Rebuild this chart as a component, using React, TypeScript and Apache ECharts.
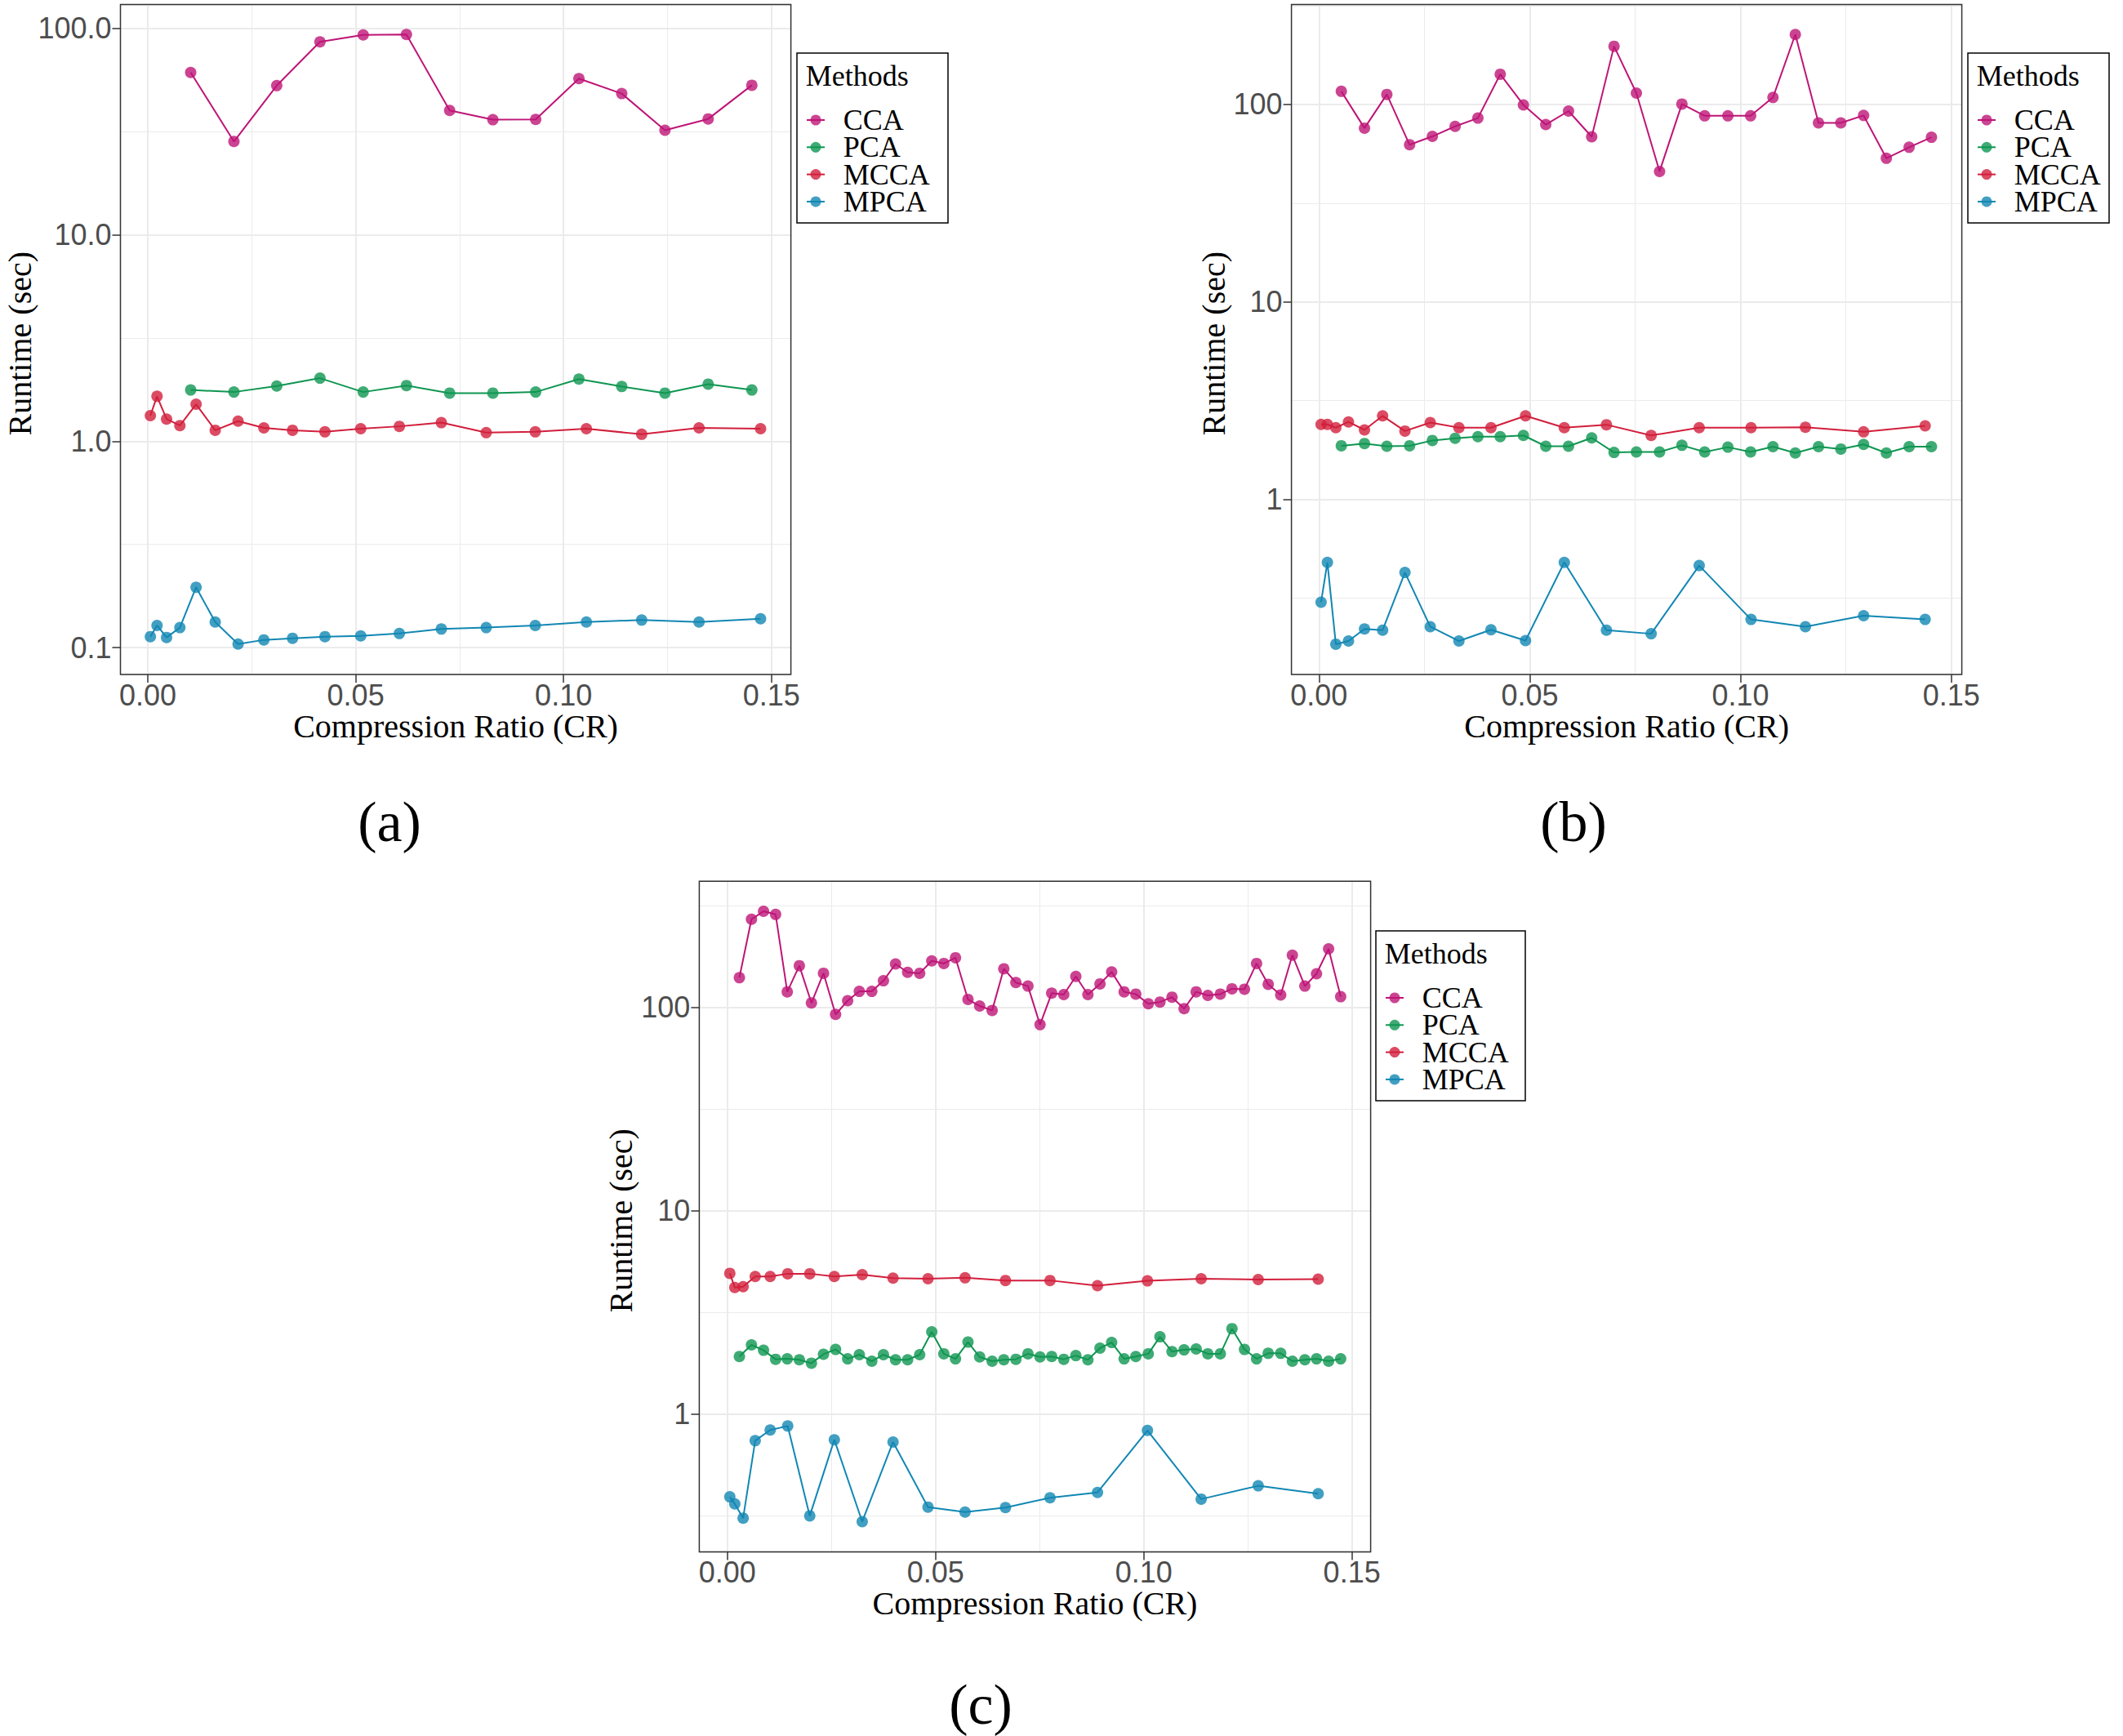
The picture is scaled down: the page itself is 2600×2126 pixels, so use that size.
import React, { useEffect, useRef } from 'react';
import * as echarts from 'echarts';

// ---------- data ----------
const methods = ['CCA', 'PCA', 'MCCA', 'MPCA'];
const xTicks = [0, 0.05, 0.1, 0.15];
const aYTicks = [0.1, 1, 10, 100];
const bYTicks = [1, 10, 100];
const cYTicks = [1, 10, 100];

// Panel (a)
const aCrSingle = [0.0103, 0.0207, 0.031, 0.0414, 0.0518, 0.0622, 0.0726, 0.083, 0.0933, 0.1037, 0.114, 0.1244, 0.1348, 0.1453];
const aCCA = [61.1, 28.3, 52.8, 86.0, 92.9, 93.4, 40.0, 36.1, 36.2, 57.1, 48.3, 32.1, 36.4, 53.0];
const aPCA = [1.77, 1.73, 1.85, 2.02, 1.73, 1.86, 1.71, 1.71, 1.73, 2.0, 1.84, 1.71, 1.89, 1.77];
const aCrMulti = [0.0006, 0.0022, 0.0045, 0.0077, 0.0116, 0.0162, 0.0217, 0.0279, 0.0348, 0.0426, 0.0512, 0.0605, 0.0706, 0.0814, 0.0932, 0.1055, 0.1188, 0.1326, 0.1474];
const aMCCA = [1.33, 1.65, 1.28, 1.19, 1.51, 1.13, 1.25, 1.16, 1.13, 1.11, 1.15, 1.18, 1.23, 1.1, 1.11, 1.15, 1.08, 1.16, 1.15];
const aMPCA = [0.113, 0.128, 0.112, 0.125, 0.196, 0.133, 0.104, 0.109, 0.111, 0.113, 0.114, 0.117, 0.123, 0.125, 0.128, 0.133, 0.136, 0.133, 0.138];

// Panel (b)
const bCrSingle = [0.0053, 0.0108, 0.0161, 0.0215, 0.0269, 0.0323, 0.0377, 0.043, 0.0485, 0.0538, 0.0592, 0.0647, 0.07, 0.0753, 0.0808, 0.0861, 0.0915, 0.097, 0.1024, 0.1077, 0.113, 0.1185, 0.1238, 0.1292, 0.1346, 0.14, 0.1453];
const bCCA = [116.5, 75.9, 112.4, 62.5, 68.9, 77.5, 85.3, 142.2, 99.5, 79.1, 92.6, 68.6, 197.1, 114.2, 45.8, 100.5, 87.6, 87.6, 87.6, 108.5, 226.1, 80.7, 80.7, 88.0, 53.4, 60.7, 68.2];
const bPCA = [1.87, 1.92, 1.86, 1.87, 1.99, 2.04, 2.08, 2.08, 2.11, 1.86, 1.86, 2.05, 1.73, 1.74, 1.74, 1.88, 1.74, 1.84, 1.74, 1.85, 1.72, 1.85, 1.8, 1.9, 1.72, 1.85, 1.85];
const bCrMulti = [0.0005, 0.002, 0.004, 0.007, 0.0108, 0.0151, 0.0204, 0.0264, 0.0332, 0.0408, 0.049, 0.0582, 0.0682, 0.0788, 0.0902, 0.1025, 0.1154, 0.1292, 0.1438];
const bMCCA = [2.4, 2.4, 2.31, 2.47, 2.25, 2.65, 2.22, 2.45, 2.31, 2.31, 2.65, 2.31, 2.39, 2.11, 2.31, 2.31, 2.32, 2.2, 2.36];
const bMPCA = [0.302, 0.48, 0.185, 0.192, 0.221, 0.218, 0.427, 0.227, 0.192, 0.219, 0.193, 0.48, 0.218, 0.209, 0.463, 0.247, 0.227, 0.258, 0.247];

// Panel (c)
const cCrSingle = [0.0029, 0.0058, 0.0087, 0.0116, 0.0144, 0.0173, 0.0202, 0.0231, 0.026, 0.0289, 0.0317, 0.0347, 0.0375, 0.0404, 0.0433, 0.0462, 0.0491, 0.052, 0.0548, 0.0578, 0.0606, 0.0636, 0.0664, 0.0693, 0.0722, 0.0751, 0.0779, 0.0808, 0.0837, 0.0866, 0.0895, 0.0923, 0.0953, 0.0981, 0.1011, 0.1039, 0.1068, 0.1097, 0.1126, 0.1154, 0.1184, 0.1212, 0.1242, 0.1271, 0.1299, 0.1329, 0.1357, 0.1387, 0.1415, 0.1444, 0.1473];
const cCCA = [139.9, 271.0, 296.6, 286.4, 119.2, 160.2, 105.1, 147.1, 92.3, 107.8, 119.8, 119.8, 135.1, 163.4, 148.6, 147.1, 169.2, 164.3, 175.3, 109.4, 101.5, 96.6, 154.7, 132.4, 127.2, 82.2, 117.4, 115.6, 142.0, 115.6, 130.4, 149.3, 119.2, 116.2, 104.1, 106.2, 112.2, 98.5, 119.2, 114.5, 116.2, 123.4, 122.8, 164.3, 129.8, 115.1, 180.6, 127.2, 146.3, 193.8, 112.8];
const cPCA = [1.92, 2.19, 2.06, 1.86, 1.87, 1.85, 1.78, 1.97, 2.08, 1.87, 1.96, 1.82, 1.96, 1.85, 1.85, 1.96, 2.54, 1.98, 1.87, 2.26, 1.91, 1.82, 1.85, 1.86, 1.98, 1.91, 1.92, 1.86, 1.94, 1.85, 2.11, 2.25, 1.87, 1.92, 1.98, 2.4, 2.03, 2.07, 2.09, 1.98, 1.98, 2.63, 2.08, 1.87, 1.99, 1.99, 1.82, 1.85, 1.87, 1.82, 1.87];
const cCrMulti = [0.0006, 0.0018, 0.0038, 0.0067, 0.0103, 0.0145, 0.0198, 0.0257, 0.0324, 0.0398, 0.0482, 0.0571, 0.0668, 0.0775, 0.0889, 0.1009, 0.1138, 0.1275, 0.1419];
const cMCCA = [4.92, 4.19, 4.23, 4.75, 4.75, 4.9, 4.9, 4.75, 4.85, 4.66, 4.63, 4.68, 4.54, 4.54, 4.28, 4.52, 4.63, 4.59, 4.61];
const cMPCA = [0.392, 0.362, 0.308, 0.74, 0.835, 0.874, 0.316, 0.748, 0.296, 0.729, 0.349, 0.33, 0.347, 0.388, 0.412, 0.831, 0.382, 0.444, 0.406];

// ---------- styles / layout ----------
const COLORS = ['#BE1577', '#0F9651', '#D21F3C', '#1287B3'];
const SANS = 'Liberation Sans';
const SERIF = 'Liberation Serif';
const TICK_COLOR = '#4D4D4D';
const GRID_COLOR = '#EBEBEB';

const panels = [
  {
    label: '(a)', labelPos: [477, 1006],
    grid: { left: 147.5, top: 5.4, width: 821.1, height: 820.6 },
    xRange: [-0.0066, 0.1547], yRange: [0.0741, 130.6],
    yTicks: aYTicks, yDecimals: 1, yTitleGap: 123,
    legend: { left: 976, top: 65, width: 185 },
    series: [[aCrSingle, aCCA], [aCrSingle, aPCA], [aCrMulti, aMCCA], [aCrMulti, aMPCA]],
  },
  {
    label: '(b)', labelPos: [1927, 1006],
    grid: { left: 1581.6, top: 5.4, width: 821, height: 820.6 },
    xRange: [-0.00653, 0.1525], yRange: [0.13, 321],
    yTicks: bYTicks, yDecimals: 0, yTitleGap: 95.6,
    legend: { left: 2410, top: 65, width: 173 },
    series: [[bCrSingle, bCCA], [bCrSingle, bPCA], [bCrMulti, bMCCA], [bCrMulti, bMPCA]],
  },
  {
    label: '(c)', labelPos: [1201, 2087],
    grid: { left: 856.4, top: 1079.2, width: 822.2, height: 821.2 },
    xRange: [-0.00673, 0.1545], yRange: [0.2104, 416.9],
    yTicks: cYTicks, yDecimals: 0, yTitleGap: 96,
    legend: { left: 1685, top: 1140, width: 183 },
    series: [[cCrSingle, cCCA], [cCrSingle, cPCA], [cCrMulti, cMCCA], [cCrMulti, cMPCA]],
  },
];

function textEl(text: string, x: number, y: number, size: number, family: string, opts: any = {}) {
  return {
    type: 'text',
    x, y,
    rotation: opts.rotation || 0,
    z: 100,
    silent: true,
    style: {
      text,
      fill: opts.fill || '#000',
      fontSize: size,
      fontFamily: family,
      lineHeight: opts.lineHeight || size,
      align: opts.align || 'center',
      verticalAlign: 'middle',
      textAlign: opts.align || 'center',
      textVerticalAlign: 'middle',
    },
  };
}

function buildOption() {
  const grids: any[] = [];
  const xAxes: any[] = [];
  const yAxes: any[] = [];
  const series: any[] = [];
  const graphics: any[] = [];

  panels.forEach((p, pi) => {
    const g = p.grid;
    grids.push({ left: g.left, top: g.top, width: g.width, height: g.height, containLabel: false, show: false });

    xAxes.push({
      type: 'value', gridIndex: pi, position: 'bottom',
      min: p.xRange[0], max: p.xRange[1],
      splitNumber: 3, minInterval: 0.05, maxInterval: 0.05,
      axisLine: { show: false, onZero: false },
      axisTick: { show: true, customValues: xTicks, length: 10, lineStyle: { color: '#333333', width: 1.5 } },
      axisLabel: {
        customValues: xTicks, margin: 7,
        fontSize: 36, fontFamily: SANS, color: TICK_COLOR,
        formatter: (v: number) => v.toFixed(2),
      },
      splitLine: { show: true, lineStyle: { color: GRID_COLOR, width: 2 } },
      minorTick: { show: false, splitNumber: 2 },
      minorSplitLine: { show: true, lineStyle: { color: GRID_COLOR, width: 1 } },
    });

    // data axis (log scale)
    yAxes.push({
      type: 'log', logBase: 10, gridIndex: pi, position: 'left',
      min: p.yRange[0], max: p.yRange[1],
      axisLine: { show: false, onZero: false },
      axisTick: { show: false },
      axisLabel: { show: false },
      splitLine: { show: true, lineStyle: { color: GRID_COLOR, width: 2 } },
      minorSplitLine: { show: false },
    });
    // companion axis in decades: labels, ticks and the half-decade minor grid
    const lo = Math.log10(p.yRange[0]);
    const hi = Math.log10(p.yRange[1]);
    const dec = p.yDecimals;
    yAxes.push({
      type: 'value', gridIndex: pi, position: 'left', offset: 0,
      min: lo, max: hi,
      splitNumber: 3, minInterval: 1, maxInterval: 1,
      axisLine: { show: false, onZero: false },
      axisTick: { show: true, customValues: p.yTicks.map((t) => Math.log10(t)), length: 10, lineStyle: { color: '#333333', width: 1.5 } },
      axisLabel: {
        customValues: p.yTicks.map((t) => Math.log10(t)), margin: 11,
        fontSize: 36, fontFamily: SANS, color: TICK_COLOR,
        formatter: (v: number) => {
          const val = Math.pow(10, v);
          return dec > 0 ? val.toFixed(dec) : String(Math.round(val));
        },
      },
      splitLine: { show: false },
      minorTick: { show: false, splitNumber: 2 },
      minorSplitLine: { show: true, lineStyle: { color: GRID_COLOR, width: 1 } },
    });

    p.series.forEach(([xs, ys], mi) => {
      series.push({
        name: methods[mi],
        type: 'line',
        xAxisIndex: pi,
        yAxisIndex: pi * 2,
        data: (xs as number[]).map((x, i) => [x, (ys as number[])[i]]),
        symbol: 'circle',
        symbolSize: 14,
        showSymbol: true,
        lineStyle: { color: COLORS[mi], width: 2 },
        itemStyle: { color: COLORS[mi], opacity: 0.8 },
        emphasis: { disabled: true },
        z: 3,
      });
    });

    // panel border
    graphics.push({
      type: 'rect', z: 90, silent: true,
      shape: { x: g.left, y: g.top, width: g.width, height: g.height },
      style: { fill: 'none', stroke: '#333333', lineWidth: 1.5 },
    });
    // axis titles
    graphics.push(textEl('Compression Ratio (CR)', g.left + g.width / 2, g.top + g.height + 63, 40, SERIF));
    graphics.push(textEl('Runtime (sec)', g.left - p.yTitleGap, g.top + g.height / 2 + 5, 40, SERIF, { rotation: Math.PI / 2 }));
    // panel label
    graphics.push(textEl(p.label, p.labelPos[0], p.labelPos[1], 70, SERIF));

    // legend box
    const L = p.legend.left;
    const T = p.legend.top;
    graphics.push({
      type: 'rect', z: 90, silent: true,
      shape: { x: L, y: T, width: p.legend.width, height: 208 },
      style: { fill: '#fff', stroke: '#000', lineWidth: 1.5 },
    });
    graphics.push(textEl('Methods', L + 10.7, T + 28.3, 36, SERIF, { align: 'left', lineHeight: 30 }));
    methods.forEach((m, mi) => {
      const cy = T + 82 + mi * 33.3;
      graphics.push({
        type: 'line', z: 95, silent: true,
        shape: { x1: L + 12, y1: cy, x2: L + 34, y2: cy },
        style: { stroke: COLORS[mi], lineWidth: 2 },
      });
      graphics.push({
        type: 'circle', z: 96, silent: true,
        shape: { cx: L + 23, cy, r: 6.5 },
        style: { fill: COLORS[mi], opacity: 0.8 },
      });
      graphics.push(textEl(m, L + 56.7, cy, 36, SERIF, { align: 'left', lineHeight: 30 }));
    });
  });

  return {
    animation: false,
    backgroundColor: '#ffffff',
    grid: grids,
    xAxis: xAxes,
    yAxis: yAxes,
    series,
    graphic: { elements: graphics },
  };
}

export default function App() {
  const ref = useRef<HTMLDivElement>(null);
  useEffect(() => {
    if (!ref.current) return;
    const chart = echarts.init(ref.current, null, { renderer: 'svg' });
    chart.setOption(buildOption() as any);
    return () => chart.dispose();
  }, []);
  return (
    <div
      ref={ref}
      style={{ position: 'absolute', left: 0, top: 0, width: 2600, height: 2126, background: '#ffffff' }}
    />
  );
}
